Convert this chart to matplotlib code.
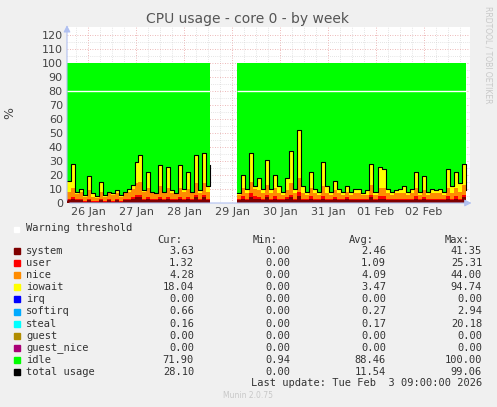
import numpy as np
import matplotlib.pyplot as plt

total_a = [16, 28, 8, 10, 6, 19, 7, 5, 15, 6, 8, 7, 9, 6, 8, 10, 13, 29, 34, 9, 22, 8, 7, 27, 8,
           26, 9, 7, 27, 10, 22, 8, 34, 9, 36, 12, 27]
total_b = [7, 20, 10, 36, 12, 18, 10, 31, 10, 20, 12, 8, 18, 37, 10, 52, 12, 8, 22, 10, 8, 29, 12,
           8, 16, 10, 8, 12, 8, 10, 10, 7, 9, 28, 8, 26, 24, 10, 8, 9, 10, 12, 8, 10, 22, 8, 19, 8,
           10, 9, 10, 8, 24, 12, 22, 14, 28, 9]
system_a = [2, 3, 2, 2, 1, 2, 1, 1, 2, 1, 2, 1, 2, 1, 2, 2, 3, 4, 4, 2, 3, 2, 2, 3, 2,
            3, 2, 2, 3, 2, 3, 2, 4, 2, 4, 2, 3]
system_b = [2, 3, 2, 4, 3, 3, 2, 4, 2, 3, 2, 2, 3, 4, 2, 5, 2, 2, 3, 2, 2, 3, 2,
            2, 3, 2, 2, 3, 2, 2, 2, 2, 2, 4, 2, 3, 3, 2, 2, 2, 2, 2, 2, 2, 3, 2, 3, 2,
            2, 2, 2, 2, 3, 2, 3, 2, 4, 3]
user_a = [1, 1, 0.5, 1, 0.5, 1, 0.5, 0.5, 1, 0.5, 1, 0.5, 1, 0.5, 1, 1, 1, 2, 2, 1, 1, 1, 1, 1, 1,
          1, 1, 1, 1, 1, 1, 1, 2, 1, 2, 1, 1]
user_b = [1, 2, 1, 3, 2, 1, 1, 2, 1, 2, 1, 1, 1, 2, 1, 3, 1, 1, 2, 1, 1, 2, 1,
          1, 1, 1, 1, 1, 1, 1, 1, 1, 1, 2, 1, 2, 2, 1, 1, 1, 1, 1, 1, 1, 2, 1, 1, 1,
          1, 1, 1, 1, 2, 1, 2, 1, 2, 1]
nice_a = [5, 7, 4, 5, 3, 6, 3, 2, 5, 3, 4, 4, 4, 3, 4, 5, 6, 8, 9, 5, 7, 4, 4, 8, 4,
          7, 4, 4, 7, 5, 6, 4, 8, 4, 8, 5, 7]
nice_b = [3, 6, 4, 8, 5, 5, 4, 7, 4, 6, 4, 3, 5, 8, 4, 10, 4, 3, 6, 4, 3, 7, 4,
          3, 5, 4, 3, 4, 3, 4, 4, 3, 3, 7, 3, 6, 6, 4, 3, 4, 4, 4, 3, 4, 6, 3, 5, 3,
          4, 4, 4, 3, 6, 4, 6, 5, 7, 4]

day_labels = ['26 Jan', '27 Jan', '28 Jan', '29 Jan', '30 Jan', '31 Jan', '01 Feb', '02 Feb']

legend_rows = [
    ('system', '#7f0000', '3.63', '0.00', '2.46', '41.35'),
    ('user', '#ff0000', '1.32', '0.00', '1.09', '25.31'),
    ('nice', '#ff8c00', '4.28', '0.00', '4.09', '44.00'),
    ('iowait', '#ffff00', '18.04', '0.00', '3.47', '94.74'),
    ('irq', '#0000ff', '0.00', '0.00', '0.00', '0.00'),
    ('softirq', '#00aaff', '0.66', '0.00', '0.27', '2.94'),
    ('steal', '#00ffff', '0.16', '0.00', '0.17', '20.18'),
    ('guest', '#b08c00', '0.00', '0.00', '0.00', '0.00'),
    ('guest_nice', '#aa0077', '0.00', '0.00', '0.00', '0.00'),
    ('idle', '#00ff00', '71.90', '0.94', '88.46', '100.00'),
    ('total usage', '#000000', '28.10', '0.00', '11.54', '99.06'),
]

W, H = 497, 407
fig = plt.figure(figsize=(W / 100, H / 100), dpi=100, facecolor='#f0f0f0')
ax = fig.add_axes([67 / W, 1 - 203 / H, 403 / W, 176 / H])
ax.set_facecolor('white')

def draw_segment(x0, x1, total, system, user, nice):
    total = np.array(total, float)
    system = np.array(system, float)
    user = np.array(user, float)
    nice = np.array(nice, float)
    iowait = np.clip(total - system - user - nice, 0, None)
    x = np.linspace(x0, x1, len(total))
    layers = [(system, '#7f0000'), (user, '#ff0000'), (nice, '#ff8c00'), (iowait, '#ffff00'),
              (100 - total, '#00ff00')]
    base = np.zeros_like(total)
    for vals, col in layers:
        ax.fill_between(x, base, base + vals, color=col, step='post', lw=0, zorder=2)
        base = base + vals
    ax.step(x, total, where='post', color='black', lw=0.8, zorder=3)
    ax.hlines(80, x0, x1, color='white', lw=1, zorder=4)

draw_segment(-0.44, 2.54, total_a, system_a, user_a, nice_a)
draw_segment(3.1, 7.875, total_b, system_b, user_b, nice_b)

ax.set_xlim(-0.44, 7.96)
ax.set_ylim(0, 125.7)
ax.set_xticks(range(8))
ax.set_xticklabels(day_labels)
ax.set_xticks(np.arange(-0.25, 7.9, 0.25), minor=True)
ax.set_yticks(range(0, 121, 10))
ax.set_yticks(range(0, 121, 5), minor=True)
ax.tick_params(which='both', length=0, labelsize=8, colors='#444444', pad=3)
ax.grid(which='minor', color='#cccccc', ls=(0, (1, 2)), lw=0.5, zorder=1)
ax.grid(which='major', color='#e8a0a0', ls=(0, (1, 2)), lw=0.6, zorder=1)
for s in ax.spines.values():
    s.set_visible(False)
ax.annotate('', xy=(8.05, 0), xytext=(-0.44, 0), xycoords='data',
            arrowprops=dict(arrowstyle='-|>', color='#b0c0f0', lw=0.8), annotation_clip=False)
ax.annotate('', xy=(-0.44, 129), xytext=(-0.44, 0), xycoords='data',
            arrowprops=dict(arrowstyle='-|>', color='#b0c0f0', lw=0.8), annotation_clip=False)

fig.text(248 / W, 1 - 19 / H, 'CPU usage - core 0 - by week', ha='center', va='center',
         fontsize=10, color='#555555')
fig.text(10 / W, 1 - 113 / H, '%', rotation=90, ha='center', va='center', fontsize=9, color='#444444')
fig.text(488 / W, 1 - 6 / H, 'RRDTOOL / TOBI OETIKER', rotation=270, ha='center', va='top',
         fontsize=5.5, color='#c8c8c8')

mono = 'DejaVu Sans Mono'
fs = 7.5
def px(x, y):
    return x / W, 1 - y / H

fig.patches.append(plt.Rectangle(px(14, 232), 5 / W, 5 / H, transform=fig.transFigure,
                                 color='white', zorder=5))
fig.text(*px(26, 228), 'Warning threshold', family=mono, fontsize=fs, va='center', color='#333333')
for xr, lab in zip([182, 278, 374, 470], ['Cur:', 'Min:', 'Avg:', 'Max:']):
    fig.text(*px(xr, 240), lab, family=mono, fontsize=fs, va='center', ha='right', color='#333333')
for i, (name, col, cur, mn, avg, mx) in enumerate(legend_rows):
    y = 251 + i * 12.1
    fig.patches.append(plt.Rectangle(px(14, y + 3), 6 / W, 6 / H, transform=fig.transFigure,
                                     color=col, zorder=5))
    fig.text(*px(26, y), name, family=mono, fontsize=fs, va='center', color='#333333')
    for xr, v in zip([194, 290, 386, 482], [cur, mn, avg, mx]):
        fig.text(*px(xr, y), v, family=mono, fontsize=fs, va='center', ha='right', color='#333333')
fig.text(*px(482, 383), 'Last update: Tue Feb  3 09:00:00 2026', family=mono, fontsize=fs,
         va='center', ha='right', color='#333333')
fig.text(*px(248, 396), 'Munin 2.0.75', fontsize=5.5, ha='center', va='center', color='#c8c8c8')

fig.savefig('out.png', dpi=100, facecolor=fig.get_facecolor())
